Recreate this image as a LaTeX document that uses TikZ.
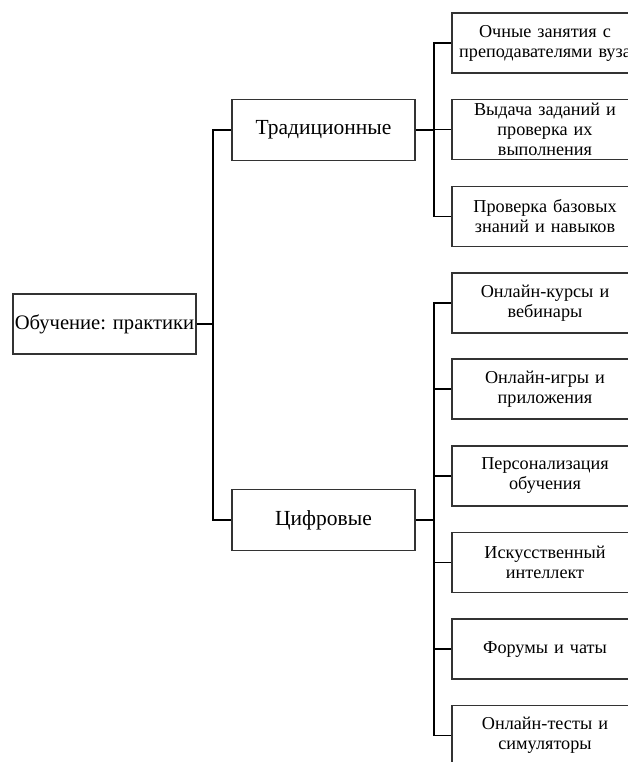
\documentclass[tikz,border=0pt]{standalone}
\usepackage{fontspec}
\setmainfont{Liberation Serif}
\usetikzlibrary{calc}

\tikzset{
  box/.style={draw=black!80, line width=1.6pt, minimum width=183pt, minimum height=61pt,
    inner sep=0pt, align=center, font=\fontsize{21.5}{22}\selectfont},
  leaf/.style={box, text width=186pt, minimum height=60pt, font=\fontsize{18.2}{20}\selectfont},
  link/.style={line width=1.1pt}
}

\begin{document}
\begin{tikzpicture}[x=1pt, y=-1pt]
\useasboundingbox (0,0) rectangle (628,762);
\clip (0,0) rectangle (628,762);
% Draw root and groups
\node[box, minimum height=60pt, font=\fontsize{20.6}{22}\selectfont] (root) at (104.5,324) {Обучение: практики};
\node[box] (trad) at (323.5,130) {Традиционные};
\node[box] (digi) at (323.5,520) {Цифровые};
% Draw leaves of first group
\node[leaf] (trad1) at (545,43) {Очные занятия с\\преподавателями вуза};
\node[leaf] (trad2) at (545,129.5) {Выдача заданий и\\проверка их\\выполнения};
\node[leaf] (trad3) at (545,216.5) {Проверка базовых\\знаний и навыков};
% Draw leaves of second group
\node[leaf] (digi1) at (545,303) {Онлайн-курсы и\\вебинары};
\node[leaf] (digi2) at (545,389) {Онлайн-игры и\\приложения};
\node[leaf] (digi3) at (545,476) {Персонализация\\обучения};
\node[leaf] (digi4) at (545,562.5) {Искусственный\\интеллект};
\node[leaf] (digi5) at (545,649) {Форумы и чаты};
\node[leaf] (digi6) at (545,735.5) {Онлайн-тесты и\\симуляторы};
% Draw junctions
\coordinate (root-j) at (213,324);
\coordinate (trad-j) at (434,130);
\coordinate (digi-j) at (434,520);
% Draw connectors
\draw[link] (root.east) -- (root-j);
\draw[link] (root-j) |- (trad.west);
\draw[link] (root-j) |- (digi.west);
\draw[link] (trad.east) -- (trad-j);
\foreach \i in {1,2,3}
  \draw[link] (trad-j) |- (trad\i.west);
\draw[link, line width=2.4pt] (digi.east) -- (digi-j);
\foreach \i in {1,...,6}
  \draw[link] (digi-j) |- (digi\i.west);
\end{tikzpicture}
\end{document}
